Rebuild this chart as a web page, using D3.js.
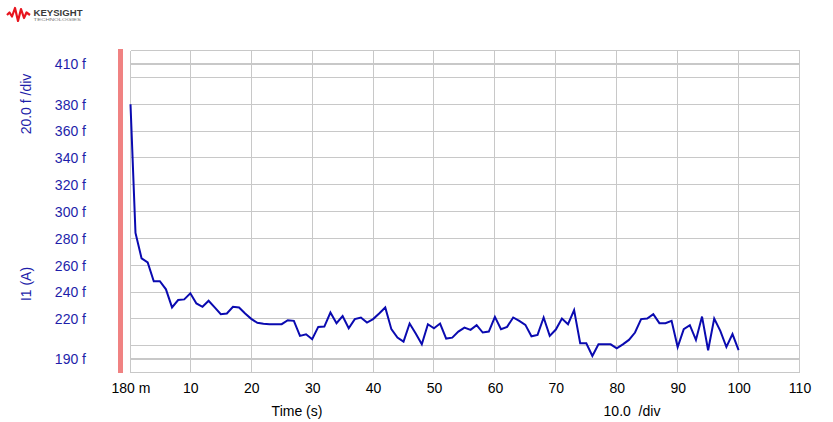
<!DOCTYPE html>
<html>
<head>
<meta charset="utf-8">
<script src="https://cdn.jsdelivr.net/npm/d3@7"></script>
<style>
  html, body { margin: 0; padding: 0; background: #ffffff; }
  svg { display: block; }
  text { font-family: "Liberation Sans", Arial, sans-serif; }
</style>
</head>
<body>
<svg id="chart" width="833" height="422"></svg>
<script>
// ---- data ----
const times = [0.18, 1, 2, 3, 4, 5, 6, 7, 8, 9, 10,
  11, 12, 13, 14, 15, 16, 17, 18, 19, 20,
  21, 22, 23, 24, 25, 26, 27, 28, 29, 30,
  31, 32, 33, 34, 35, 36, 37, 38, 39, 40,
  41, 42, 43, 44, 45, 46, 47, 48, 49, 50,
  51, 52, 53, 54, 55, 56, 57, 58, 59, 60,
  61, 62, 63, 64, 65, 66, 67, 68, 69, 70,
  71, 72, 73, 74, 75, 76, 77, 78, 79, 80,
  81, 82, 83, 84, 85, 86, 87, 88, 89, 90,
  91, 92, 93, 94, 95, 96, 97, 98, 99, 100];
// current I1 in fA
const current = [380, 284, 265, 262, 248, 248, 242, 228.5, 234, 234.5, 239,
  231.5, 229, 233.5, 228.5, 223.5, 224, 229, 228.5, 224, 220,
  217, 216.3, 216, 216, 216, 219, 218.5, 207.3, 208.5, 204.8,
  214, 214.2, 224.7, 216.7, 222, 213, 219.8, 221, 217.2, 219.8,
  224, 228.5, 212.3, 206, 203, 216.5, 209, 201, 216, 213,
  216.5, 205.3, 206, 210.5, 213.5, 211.8, 215.3, 209.8, 210.5, 221.5,
  212.3, 214, 221, 218.5, 215.5, 207, 208, 221, 207.3, 212,
  220.2, 216, 226.5, 201.8, 201.8, 192.3, 201, 201, 201, 198,
  201, 204.3, 209.8, 219.8, 220.2, 223.5, 216.8, 216.8, 218.5, 199,
  212.3, 215.3, 204.3, 221.7, 196.6, 220.2, 211, 199, 208.6, 196.6];

const xTicks = [0.18, 10, 20, 30, 40, 50, 60, 70, 80, 90, 100, 110];
const yGrid = [180, 200, 220, 240, 260, 280, 300, 320, 340, 360, 380, 400, 420];
const yMarkers = [410, 190];
const yTickLabels = [410, 380, 360, 340, 320, 300, 280, 260, 240, 220, 190];

// ---- layout ----
const svg = d3.select("#chart");
const x = d3.scaleLinear().domain([0.18, 110]).range([130.5, 799.5]);
const y = d3.scaleLinear().domain([180, 420]).range([372.5, 50.5]);
const crisp = v => Math.round(v - 0.5) + 0.5;

const gridColor = "#c8c8c8";
const blue = "#1e1eaa";

// red bar at left of plot
svg.append("rect")
  .attr("x", 118).attr("y", 49)
  .attr("width", 5).attr("height", 324)
  .attr("fill", "#f08282");

// grid
const grid = svg.append("g").attr("shape-rendering", "crispEdges");
grid.selectAll("line.h").data(yGrid).join("line")
  .attr("class", "h")
  .attr("x1", x(0.18)).attr("x2", x(110))
  .attr("y1", d => crisp(y(d))).attr("y2", d => crisp(y(d)))
  .attr("stroke", gridColor).attr("stroke-width", 1);
grid.selectAll("line.v").data(xTicks).join("line")
  .attr("class", "v")
  .attr("x1", d => crisp(x(d))).attr("x2", d => crisp(x(d)))
  .attr("y1", y(420)).attr("y2", y(180))
  .attr("stroke", gridColor).attr("stroke-width", 1);
grid.selectAll("line.m").data(yMarkers).join("line")
  .attr("class", "m")
  .attr("x1", x(0.18)).attr("x2", x(110))
  .attr("y1", d => Math.round(y(d))).attr("y2", d => Math.round(y(d)))
  .attr("stroke", gridColor).attr("stroke-width", 2);

// data line
const line = d3.line().x((d, i) => x(times[i])).y(d => y(d));
svg.append("path")
  .datum(current)
  .attr("d", line)
  .attr("fill", "none")
  .attr("stroke", "#0a0ab0")
  .attr("stroke-width", 2)
  .attr("stroke-linejoin", "miter");

// y axis labels
const yAxis = d3.axisLeft(y)
  .tickValues(yTickLabels)
  .tickSize(0).tickPadding(0)
  .tickFormat(d => d + " f");
const gy = svg.append("g").attr("transform", "translate(86,0)").call(yAxis);
gy.select(".domain").remove();
gy.selectAll("text")
  .attr("fill", blue)
  .style("font-size", "14px")
  .style("font-family", "'Liberation Sans', Arial, sans-serif")
  .attr("dy", "0.35em");

// x axis labels
const xAxis = d3.axisBottom(x)
  .tickValues(xTicks)
  .tickSize(0).tickPadding(0)
  .tickFormat(d => d === 0.18 ? "180 m" : String(d));
const gx = svg.append("g").attr("transform", "translate(0,392.5)").call(xAxis);
gx.select(".domain").remove();
gx.selectAll("text")
  .attr("fill", "#000")
  .attr("y", 0).attr("dy", 0)
  .style("font-size", "14px")
  .style("font-family", "'Liberation Sans', Arial, sans-serif");

// axis titles
svg.append("text")
  .attr("x", 297).attr("y", 415.5)
  .attr("text-anchor", "middle")
  .style("font-size", "14px").attr("fill", "#000")
  .text("Time (s)");
svg.append("text")
  .attr("x", 632).attr("y", 415.5)
  .attr("text-anchor", "middle")
  .style("font-size", "14px").style("white-space", "pre").attr("fill", "#000")
  .text("10.0  /div");

svg.append("text")
  .attr("transform", "translate(31,104) rotate(-90)")
  .attr("text-anchor", "middle")
  .style("font-size", "14px").attr("fill", blue)
  .text("20.0 f /div");
svg.append("text")
  .attr("transform", "translate(31,284) rotate(-90)")
  .attr("text-anchor", "middle")
  .style("font-size", "14px").attr("fill", blue)
  .text("I1 (A)");

// logo
const logo = svg.append("g");
logo.append("path")
  .attr("d", "M7,15 L9.5,12.5 L12,16.5 L15,8 L18,21 L21,9 L24,18 L26.5,12.5 L30,15")
  .attr("fill", "none").attr("stroke", "#e8141e")
  .attr("stroke-width", 2.2).attr("stroke-linejoin", "round");
logo.append("text")
  .attr("x", 33.5).attr("y", 15.8)
  .attr("textLength", 49).attr("lengthAdjust", "spacingAndGlyphs")
  .style("font-size", "9px").style("font-weight", "bold").attr("fill", "#3a3a3a")
  .text("KEYSIGHT");
logo.append("text")
  .attr("x", 33.5).attr("y", 21.3)
  .attr("textLength", 47.5).attr("lengthAdjust", "spacingAndGlyphs")
  .style("font-size", "4.2px").attr("fill", "#777")
  .text("TECHNOLOGIES");
</script>
</body>
</html>
